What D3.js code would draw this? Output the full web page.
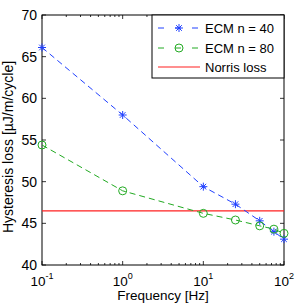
<!DOCTYPE html>
<html>
<head>
<meta charset="utf-8">
<script src="https://cdn.jsdelivr.net/npm/d3@7"></script>
<style>
  body { margin: 0; background: #fff; }
  text { font-family: "Liberation Sans", Arial, sans-serif; }
</style>
</head>
<body>
<div id="chart"></div>
<script>
// Data
const freq = [0.1, 1, 10, 25, 50, 75, 100];
const ecm40 = [66.1, 58.0, 49.4, 47.3, 45.3, 44.0, 43.1];
const ecm80 = [54.4, 48.9, 46.2, 45.4, 44.7, 44.3, 43.8];
const norrisLoss = 46.5;
const yTicks = [40, 45, 50, 55, 60, 65, 70];
const xTicks = [0.1, 1, 10, 100];
const seriesNames = ["ECM n = 40", "ECM n = 80", "Norris loss"];

const margin = { top: 15, right: 16, bottom: 42, left: 42 },
    width = 300 - margin.left - margin.right,
    height = 307 - margin.top - margin.bottom;

const svg = d3.select("#chart")
    .append("svg")
    .attr("width", 300)
    .attr("height", 307)
    .append("g")
    .attr("transform", `translate(${margin.left},${margin.top})`);

const x = d3.scaleLog().domain([0.1, 100]).range([0, width]);
const y = d3.scaleLinear().domain([40, 70]).range([height, 0]);

// minor ticks on the log axis
const minor = [];
[0.1, 1, 10].forEach(d => { for (let k = 2; k <= 9; k++) minor.push(d * k); });

// box
svg.append("rect")
    .attr("width", width).attr("height", height)
    .attr("fill", "none").attr("stroke", "#000").attr("stroke-width", 1);

const tk = svg.append("g").attr("stroke", "#000").attr("stroke-width", 0.8);
xTicks.forEach(d => {
  tk.append("line").attr("x1", x(d)).attr("x2", x(d)).attr("y1", height).attr("y2", height - 4);
  tk.append("line").attr("x1", x(d)).attr("x2", x(d)).attr("y1", 0).attr("y2", 4);
});
minor.forEach(d => {
  tk.append("line").attr("x1", x(d)).attr("x2", x(d)).attr("y1", height).attr("y2", height - 2);
  tk.append("line").attr("x1", x(d)).attr("x2", x(d)).attr("y1", 0).attr("y2", 2);
});
yTicks.forEach(d => {
  tk.append("line").attr("x1", 0).attr("x2", 4).attr("y1", y(d)).attr("y2", y(d));
  tk.append("line").attr("x1", width).attr("x2", width - 4).attr("y1", y(d)).attr("y2", y(d));
});

// y tick labels
svg.selectAll(".ylab")
  .data(yTicks)
  .enter()
  .append("text")
  .attr("x", -5)
  .attr("y", d => y(d))
  .attr("dy", "0.35em")
  .attr("text-anchor", "end")
  .attr("font-size", 14)
  .text(d => d);

// x tick labels as 10^n
xTicks.forEach(d => {
  const t = svg.append("text")
      .attr("x", x(d))
      .attr("y", height + 21)
      .attr("text-anchor", "middle")
      .attr("font-size", 13.5);
  t.append("tspan").text("10");
  t.append("tspan").attr("font-size", 9).attr("dy", -7).text(Math.round(Math.log10(d)));
});

// axis titles
svg.append("text")
    .attr("x", width / 2)
    .attr("y", height + 35)
    .attr("text-anchor", "middle")
    .attr("font-size", 13.5)
    .text("Frequency [Hz]");

svg.append("text")
    .attr("transform", `translate(-29,${height / 2 + 7}) rotate(-90)`)
    .attr("text-anchor", "middle")
    .attr("font-size", 14)
    .text("Hysteresis loss [\u00b5J/m/cycle]");

const line = d3.line().x(d => x(d[0])).y(d => y(d[1]));

// Norris loss
svg.append("line")
    .attr("x1", 0).attr("x2", width)
    .attr("y1", y(norrisLoss)).attr("y2", y(norrisLoss))
    .attr("stroke", "#ff2020").attr("stroke-width", 1.2);

// ECM n = 40
const blue = "#2040ff";
svg.append("path")
    .attr("d", line(d3.zip(freq, ecm40)))
    .attr("fill", "none").attr("stroke", blue).attr("stroke-width", 1)
    .attr("stroke-dasharray", "6,4");

const star = (g, cx, cy, r, color) => {
  for (let a = 0; a < 4; a++) {
    const ang = a * Math.PI / 4;
    g.append("line")
      .attr("x1", cx - r * Math.cos(ang)).attr("y1", cy - r * Math.sin(ang))
      .attr("x2", cx + r * Math.cos(ang)).attr("y2", cy + r * Math.sin(ang))
      .attr("stroke", color).attr("stroke-width", 1);
  }
};
const starG = svg.append("g");
freq.forEach((f, i) => star(starG, x(f), y(ecm40[i]), 4, blue));

// ECM n = 80
const green = "#22aa22";
svg.append("path")
    .attr("d", line(d3.zip(freq, ecm80)))
    .attr("fill", "none").attr("stroke", green).attr("stroke-width", 1)
    .attr("stroke-dasharray", "6,4");

svg.selectAll(".circ")
  .data(d3.zip(freq, ecm80))
  .enter()
  .append("circle")
  .attr("cx", d => x(d[0]))
  .attr("cy", d => y(d[1]))
  .attr("r", 4)
  .attr("fill", "none")
  .attr("stroke", green)
  .attr("stroke-width", 1);

// legend
const lg = svg.append("g").attr("transform", `translate(${width - 132},0)`);
lg.append("rect")
    .attr("width", 132).attr("height", 63)
    .attr("fill", "#fff").attr("stroke", "#000").attr("stroke-width", 1);
const rows = [13, 33, 52];
const colors = [blue, green, "#ff2020"];
rows.forEach((ry, i) => {
  if (i < 2) {
    lg.append("line").attr("x1", 6).attr("x2", 48).attr("y1", ry).attr("y2", ry)
      .attr("stroke", colors[i]).attr("stroke-dasharray", "6,11").attr("stroke-dashoffset", 0);
    if (i === 0) star(lg, 27, ry, 4, blue);
    else lg.append("circle").attr("cx", 27).attr("cy", ry).attr("r", 4)
      .attr("fill", "none").attr("stroke", green);
  } else {
    lg.append("line").attr("x1", 6).attr("x2", 48).attr("y1", ry).attr("y2", ry)
      .attr("stroke", colors[i]).attr("stroke-width", 1.2);
  }
  lg.append("text")
    .attr("x", 53).attr("y", ry).attr("dy", "0.35em")
    .attr("font-size", 13)
    .text(seriesNames[i]);
});
</script>
</body>
</html>
